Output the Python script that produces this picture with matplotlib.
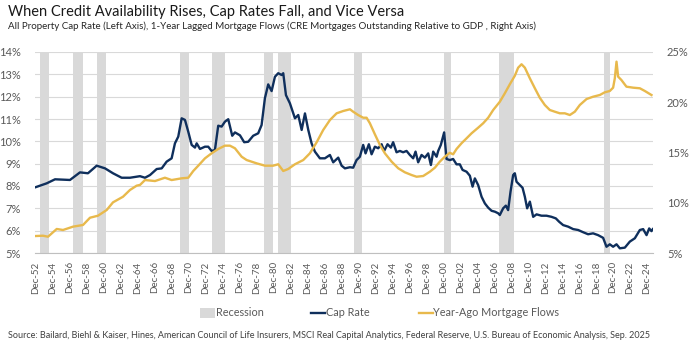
import matplotlib
matplotlib.use("Agg")
import matplotlib.pyplot as plt
from matplotlib.patches import Rectangle
from matplotlib.lines import Line2D
from matplotlib.ticker import FuncFormatter, FixedLocator

plt.rcParams["font.family"] = ["Lato", "DejaVu Sans"]

# All-property cap rate (%), left axis; dates as decimal years
cap_years = [
    1952.90, 1954.18, 1955.16, 1956.92, 1958.10, 1959.04, 1960.07, 1961.05, 1961.99, 1963.01,
    1963.99, 1965.17, 1965.76, 1966.35, 1967.14, 1967.73, 1968.31, 1968.90, 1969.29, 1969.68,
    1970.08, 1970.47, 1970.86, 1971.26, 1971.65, 1971.85, 1972.24, 1972.83, 1973.21, 1973.61,
    1974.00, 1974.39, 1974.79, 1975.18, 1975.57, 1976.04, 1976.36, 1976.95, 1977.45, 1977.92,
    1978.51, 1979.10, 1979.50, 1979.89, 1980.28, 1980.68, 1981.07, 1981.46, 1981.86, 1982.05,
    1982.37, 1982.84, 1983.43, 1983.82, 1984.22, 1984.61, 1985.00, 1985.39, 1985.78, 1986.37,
    1986.96, 1987.55, 1987.94, 1988.53, 1988.93, 1989.32, 1989.91, 1990.29, 1990.69, 1991.08,
    1991.47, 1991.75, 1992.14, 1992.46, 1992.85, 1993.24, 1993.64, 1993.94, 1994.34, 1994.73,
    1995.00, 1995.40, 1995.79, 1996.18, 1996.58, 1996.97, 1997.36, 1997.64, 1997.95, 1998.35,
    1998.74, 1999.13, 1999.45, 1999.72, 2000.12, 2000.31, 2000.62, 2001.01, 2001.29, 2001.68,
    2002.07, 2002.47, 2002.86, 2003.18, 2003.65, 2004.04, 2004.36, 2004.63, 2005.02, 2005.42,
    2005.81, 2006.20, 2006.60, 2006.99, 2007.37, 2007.57, 2007.96, 2008.28, 2008.55, 2008.83,
    2009.14, 2009.34, 2009.54, 2009.93, 2010.25, 2010.52, 2010.79, 2011.11, 2011.50, 2011.90,
    2012.48, 2013.07, 2013.66, 2014.17, 2014.56, 2015.03, 2015.62, 2016.21, 2016.80, 2017.39,
    2017.97, 2018.56, 2019.15, 2019.74, 2020.14, 2020.53, 2020.92, 2021.32, 2021.71, 2022.30,
    2022.89, 2023.48, 2024.07, 2024.46, 2024.86, 2025.17, 2025.44, 2025.60,
]
cap_rate = [
    7.95, 8.12, 8.30, 8.27, 8.61, 8.57, 8.91, 8.79, 8.57, 8.37,
    8.37, 8.44, 8.37, 8.49, 8.76, 8.79, 9.09, 9.24, 9.91, 10.21,
    11.03, 10.96, 10.43, 9.84, 9.72, 9.91, 9.66, 9.76, 9.76, 9.57,
    9.61, 10.70, 10.66, 10.88, 10.99, 10.25, 10.40, 10.27, 9.96, 9.98,
    10.25, 10.36, 10.73, 11.93, 12.55, 12.25, 12.89, 13.05, 12.97, 13.05,
    12.07, 11.70, 11.03, 11.18, 10.51, 11.25, 10.51, 9.91, 9.54, 9.24,
    9.24, 9.39, 9.06, 9.27, 8.91, 8.79, 8.84, 8.82, 9.16, 9.31,
    9.84, 9.46, 9.87, 9.42, 9.76, 9.69, 9.87, 9.57, 9.87, 9.72,
    9.96, 9.51, 9.57, 9.51, 9.57, 9.39, 9.24, 9.54, 9.06, 9.39,
    9.27, 9.46, 8.94, 9.54, 9.31, 9.57, 9.84, 10.40, 9.21, 9.16,
    9.21, 8.97, 8.97, 8.72, 8.64, 8.46, 7.97, 8.34, 8.04, 7.52,
    7.22, 7.03, 6.89, 6.85, 6.78, 6.70, 7.00, 7.12, 6.92, 7.74,
    8.49, 8.57, 8.19, 8.04, 7.92, 7.52, 7.00, 7.30, 6.62, 6.73,
    6.67, 6.67, 6.62, 6.55, 6.40, 6.25, 6.18, 6.07, 6.03, 5.93,
    5.84, 5.88, 5.80, 5.68, 5.28, 5.39, 5.28, 5.39, 5.21, 5.24,
    5.51, 5.66, 6.03, 6.07, 5.80, 6.10, 5.98, 6.07,
]

# CRE mortgages outstanding relative to GDP, lagged one year (%), right axis
flow_years = [
    1952.90, 1953.74, 1954.33, 1955.36, 1956.10, 1957.28, 1958.46, 1959.28, 1960.22, 1961.25,
    1961.99, 1963.17, 1963.99, 1964.78, 1965.17, 1965.76, 1966.94, 1968.11, 1968.90, 1970.08,
    1970.86, 1971.45, 1972.04, 1972.83, 1973.61, 1974.39, 1975.18, 1975.77, 1976.36, 1977.15,
    1977.74, 1978.92, 1979.89, 1980.87, 1981.46, 1982.05, 1982.64, 1983.43, 1984.41, 1985.19,
    1985.98, 1986.76, 1987.55, 1988.34, 1989.12, 1989.91, 1990.29, 1990.88, 1991.47, 1991.87,
    1992.26, 1992.85, 1993.44, 1994.03, 1994.82, 1995.60, 1996.38, 1997.17, 1997.76, 1998.54,
    1999.33, 1999.92, 2000.50, 2001.09, 2001.68, 2002.07, 2002.47, 2003.06, 2003.65, 2004.24,
    2005.02, 2005.61, 2006.20, 2006.79, 2007.57, 2008.16, 2008.75, 2009.34, 2009.73, 2010.13,
    2010.52, 2011.11, 2011.70, 2012.28, 2012.87, 2013.46, 2014.05, 2014.64, 2015.23, 2015.82,
    2016.41, 2017.00, 2017.79, 2018.56, 2019.35, 2019.94, 2020.53, 2020.92, 2021.12, 2021.32,
    2021.51, 2021.90, 2022.49, 2023.28, 2024.07, 2024.66, 2025.44,
]
mortgage_flows = [
    6.69, 6.72, 6.62, 7.39, 7.29, 7.62, 7.79, 8.51, 8.71, 9.28,
    10.04, 10.60, 11.27, 11.70, 11.77, 12.26, 12.16, 12.49, 12.26, 12.43,
    12.49, 13.16, 13.69, 14.42, 14.92, 15.35, 15.68, 15.68, 15.42, 14.58,
    14.25, 13.92, 13.69, 13.69, 13.83, 13.16, 13.36, 13.83, 14.25, 14.92,
    16.01, 17.24, 18.23, 18.90, 19.13, 19.30, 19.06, 18.73, 18.46, 18.46,
    17.91, 16.81, 15.75, 14.92, 14.09, 13.43, 13.03, 12.76, 12.59, 12.66,
    13.09, 13.49, 14.09, 14.58, 14.97, 14.82, 15.35, 15.92, 16.41, 16.91,
    17.47, 17.91, 18.46, 19.23, 20.05, 20.89, 21.79, 22.64, 23.44, 23.78,
    23.44, 22.38, 21.39, 20.45, 19.73, 19.23, 19.06, 18.90, 18.90, 18.73,
    19.06, 19.73, 20.32, 20.55, 20.72, 20.99, 21.12, 21.45, 22.38, 24.04,
    22.55, 22.21, 21.55, 21.45, 21.39, 21.12, 20.72,
]

# US recessions (decimal years)
recession_start = [1953.40, 1957.30, 1960.10, 1969.90, 1973.70, 1979.80, 1981.40, 1990.40, 2001.00, 2007.50, 2019.90]
recession_end = [1954.50, 1958.50, 1961.20, 1971.00, 1975.20, 1980.80, 1983.00, 1991.30, 2001.80, 2009.20, 2020.60]

tick_years = list(range(1952, 2025, 2))
tick_labels = ["Dec-%02d" % (y % 100) for y in tick_years]

left_ticks = [5, 6, 7, 8, 9, 10, 11, 12, 13, 14]
right_ticks = [5, 10, 15, 20, 25]

NAVY = "#0f2f5c"
GOLD = "#e8b94c"
BAND = "#d9d9d9"
GRID = "#d9d9d9"
TXT = "#595959"

W, H = 695, 345


def fx(px):
    return px / W


def fy(py):
    return 1 - py / H


fig = plt.figure(figsize=(6.95, 3.45), dpi=100)
ax = fig.add_axes([fx(35), fy(253), (653 - 35) / W, (253 - 52) / H])
ax2 = ax.twinx()

for s, e in zip(recession_start, recession_end):
    ax.axvspan(s, e, color=BAND, lw=0, zorder=1)

ax.plot(cap_years, cap_rate, color=NAVY, lw=1.7, zorder=3, solid_joinstyle="round")
ax2.plot(flow_years, mortgage_flows, color=GOLD, lw=1.7, zorder=3, solid_joinstyle="round")

ax.set_xlim(1952.80, 2025.62)
ax.set_ylim(5, 14)
ax2.set_ylim(5, 25)

ax.yaxis.set_major_locator(FixedLocator(left_ticks))
ax2.yaxis.set_major_locator(FixedLocator(right_ticks))
ax.yaxis.set_major_formatter(FuncFormatter(lambda v, p: "%d%%" % v))
ax2.yaxis.set_major_formatter(FuncFormatter(lambda v, p: "%d%%" % v))

ax.set_xticks([y + 0.92 for y in tick_years])
ax.set_xticklabels(tick_labels, rotation=90, fontsize=7, color=TXT)

ax.grid(axis="y", color=GRID, lw=0.8, zorder=0)
ax.set_axisbelow(True)

for a in (ax, ax2):
    for side in ("top", "left", "right", "bottom"):
        a.spines[side].set_visible(False)
    a.tick_params(length=0)
ax.spines["bottom"].set_visible(True)
ax.spines["bottom"].set_color("#bfbfbf")
ax.spines["bottom"].set_linewidth(0.8)

ax.tick_params(axis="y", labelsize=8, labelcolor=TXT, pad=10)
ax2.tick_params(axis="y", labelsize=8, labelcolor=TXT, pad=10)
ax.tick_params(axis="x", pad=6)

fig.text(fx(8), fy(12), "When Credit Availability Rises, Cap Rates Fall, and Vice Versa",
         fontsize=10.5, color="#1a1a1a", va="center", ha="left")
fig.text(fx(8), fy(26),
         "All Property Cap Rate (Left Axis), 1-Year Lagged Mortgage Flows (CRE Mortgages Outstanding Relative to GDP , Right Axis)",
         fontsize=7, color="#262626", va="center", ha="left")

# Legend row
leg_y = 313
fig.add_artist(Rectangle((fx(200), fy(318)), (215 - 200) / W, 10 / H,
                         transform=fig.transFigure, facecolor=BAND, edgecolor="none"))
fig.text(fx(216), fy(leg_y), "Recession", fontsize=7.8, color=TXT, va="center", ha="left")
fig.add_artist(Line2D([fx(311), fx(325)], [fy(leg_y), fy(leg_y)],
                      transform=fig.transFigure, color=NAVY, lw=1.7))
fig.text(fx(326), fy(leg_y), "Cap Rate", fontsize=7.8, color=TXT, va="center", ha="left")
fig.add_artist(Line2D([fx(419), fx(433)], [fy(leg_y), fy(leg_y)],
                      transform=fig.transFigure, color=GOLD, lw=1.7))
fig.text(fx(433), fy(leg_y), "Year-Ago Mortgage Flows", fontsize=7.8, color=TXT, va="center", ha="left")

fig.text(fx(8), fy(335),
         "Source: Bailard, Biehl & Kaiser, Hines, American Council of Life Insurers, MSCI Real Capital Analytics, Federal Reserve, U.S. Bureau of Economic Analysis, Sep. 2025",
         fontsize=6.5, color="#404040", va="center", ha="left")

fig.savefig("out.png", dpi=100)
